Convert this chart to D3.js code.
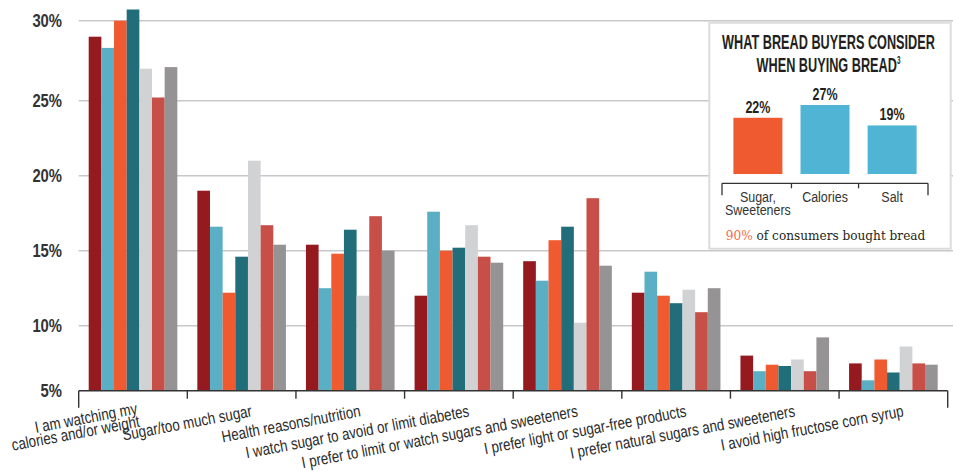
<!DOCTYPE html>
<html>
<head>
<meta charset="utf-8">
<script src="https://cdn.jsdelivr.net/npm/d3@7"></script>
<style>
  html, body { margin: 0; padding: 0; background: #fff; }
  svg { display: block; }
  .cond { font-family: "Liberation Sans", Arial, sans-serif; }
</style>
</head>
<body>
<svg id="chart" width="953" height="471"></svg>
<script>
// ---------- DATA ----------
const categories = [
  ["I am watching my", "calories and/or weight"],
  ["Sugar/too much sugar"],
  ["Health reasons/nutrition"],
  ["I watch sugar to avoid or limit diabetes"],
  ["I prefer to limit or watch sugars and sweeteners"],
  ["I prefer light or sugar-free products"],
  ["I prefer natural sugars and sweeteners"],
  ["I avoid high fructose corn syrup"]
];
const series1 = [29.0, 19.0, 15.4, 12.0, 14.3, 12.2, 7.7, 7.1];
const series2 = [28.3, 16.6, 12.5, 17.6, 13.0, 13.6, 6.5, 5.8];
const series3 = [30.0, 12.2, 14.8, 15.0, 15.7, 12.0, 7.0, 7.4];
const series4 = [30.7, 14.6, 16.4, 15.2, 16.6, 11.5, 6.9, 6.4];
const series5 = [27.0, 21.0, 12.0, 16.7, 10.2, 12.4, 7.4, 8.4];
const series6 = [25.2, 16.7, 17.3, 14.6, 18.5, 10.9, 6.5, 7.1];
const series7 = [27.1, 15.4, 15.0, 14.2, 14.0, 12.5, 9.1, 7.0];
const seriesNames = ["s1", "s2", "s3", "s4", "s5", "s6", "s7"];
const seriesColors = ["#941a1f", "#5aafc4", "#f05a30", "#216d7a", "#d1d2d4", "#c84f47", "#959394"];
const yTicks = [5, 10, 15, 20, 25, 30];

const insetTitle = ["WHAT BREAD BUYERS CONSIDER", "WHEN BUYING BREAD"];
const insetFootnote = "3";
const insetCategories = [["Sugar,", "Sweeteners"], ["Calories"], ["Salt"]];
const insetValues = [22, 27, 19];
const insetColors = ["#f05a30", "#50b4d4", "#50b4d4"];
const insetNoteHighlight = "90%";
const insetNote = " of consumers bought bread";

// ---------- CHART ----------
const svg = d3.select("#chart");
const allSeries = [series1, series2, series3, series4, series5, series6, series7];
const catKeys = categories.map(d => d.join(" "));

const x0 = d3.scaleBand().domain(catKeys).range([78.7, 947.7]).padding(0);
const x1 = d3.scaleBand().domain(seriesNames).range([10, x0.bandwidth() - 10]).padding(0);
// piecewise-linear value axis, as in the original artwork
const y = d3.scaleLinear().domain([5, 10, 25, 30]).range([390.7, 325.7, 100.7, 20.7]);

// gridlines
svg.append("g").selectAll("line")
  .data(yTicks.filter(t => t > 5))
  .join("line")
  .attr("x1", 78.7).attr("x2", 953)
  .attr("y1", d => y(d)).attr("y2", d => y(d))
  .attr("stroke", "#c8c8c8").attr("stroke-width", 1.6);

// y labels (condensed via horizontal scale)
svg.append("g").selectAll("text")
  .data(yTicks)
  .join("text")
  .attr("class", "cond")
  .attr("transform", d => `translate(62,${y(d)}) scale(0.8,1)`)
  .attr("dy", "0.36em")
  .attr("text-anchor", "end")
  .attr("font-size", 18.5).attr("font-weight", "bold")
  .attr("fill", "#333")
  .text(d => d + "%");

// bars
const groups = svg.append("g").selectAll("g")
  .data(catKeys)
  .join("g")
  .attr("transform", d => `translate(${x0(d)},0)`);
groups.selectAll("rect")
  .data((d, i) => seriesNames.map((s, j) => ({ s, j, v: allSeries[j][i] })))
  .join("rect")
  .attr("x", d => x1(d.s))
  .attr("width", x1.bandwidth())
  .attr("y", d => y(d.v))
  .attr("height", d => y(5) - y(d.v))
  .attr("fill", d => seriesColors[d.j]);

// x axis line + boundary ticks
const base = y(5);
const xr = x0.range();
svg.append("line").attr("x1", xr[0]).attr("x2", xr[1])
  .attr("y1", base).attr("y2", base)
  .attr("stroke", "#333").attr("stroke-width", 1.6);
const bounds = catKeys.map(d => x0(d)).concat([xr[1]]);
svg.append("g").selectAll("line")
  .data(bounds)
  .join("line")
  .attr("x1", d => d).attr("x2", d => d)
  .attr("y1", base)
  .attr("y2", (d, i) => (i === 0 || i === bounds.length - 1) ? base + 17 : base + 8)
  .attr("stroke", "#333").attr("stroke-width", 1.4);

// x labels (slanted, condensed)
const xl = svg.append("g").selectAll("text")
  .data(categories)
  .join("text")
  .attr("class", "cond")
  .attr("font-size", 16.5)
  .attr("fill", "#2b2b2b")
  .attr("text-anchor", "end")
  .attr("transform", (d, i) => {
    const cx = x0(catKeys[i]) + x0.bandwidth() / 2 + (d.length > 1 ? 5 : 11);
    const cy = d.length > 1 ? base + 23 : base + 25.5;
    return `translate(${cx},${cy}) rotate(-10.7) scale(0.81,1)`;
  });
xl.selectAll("tspan")
  .data(d => d)
  .join("tspan")
  .attr("x", 0)
  .attr("dy", (d, i) => i === 0 ? 0 : "0.8em")
  .text(d => d);

// ---------- INSET ----------
const inset = svg.append("g");
inset.append("rect")
  .attr("x", 709.3).attr("y", 22.7).attr("width", 241.4).attr("height", 226)
  .attr("fill", "#fff").attr("stroke", "#dcdcdc").attr("stroke-width", 2);

const title = inset.append("g").attr("transform", "translate(828.5,0) scale(0.635,1)");
title.append("text")
  .attr("class", "cond")
  .attr("text-anchor", "middle")
  .attr("font-size", 20).attr("font-weight", "bold")
  .attr("fill", "#231f20")
  .attr("x", 0).attr("y", 49.3)
  .text(insetTitle[0]);
const t2 = title.append("text")
  .attr("class", "cond")
  .attr("text-anchor", "middle")
  .attr("font-size", 20).attr("font-weight", "bold")
  .attr("fill", "#231f20")
  .attr("x", 0).attr("y", 71.7);
t2.append("tspan").text(insetTitle[1]);
t2.append("tspan").attr("font-size", 10).attr("dy", -8).text(insetFootnote);

const ix = d3.scaleBand().domain(insetCategories.map(d => d.join(" ")))
  .range([722, 928]).paddingInner(0.27).paddingOuter(0.17);
const iy = d3.scaleLinear().domain([0, 27]).range([174, 105]);
const icx = i => ix(ix.domain()[i]) + ix.bandwidth() / 2;

inset.append("g").selectAll("rect")
  .data(insetValues)
  .join("rect")
  .attr("x", (d, i) => ix(ix.domain()[i]))
  .attr("width", ix.bandwidth())
  .attr("y", d => iy(d))
  .attr("height", d => iy(0) - iy(d))
  .attr("fill", (d, i) => insetColors[i]);

inset.append("g").selectAll("text")
  .data(insetValues)
  .join("text")
  .attr("class", "cond")
  .attr("transform", (d, i) => `translate(${icx(i)},${iy(d) - 5}) scale(0.78,1)`)
  .attr("text-anchor", "middle")
  .attr("font-size", 16).attr("font-weight", "bold")
  .attr("fill", "#231f20")
  .text(d => d + "%");

// inset axis
const ia = 183.3;
const ir = ix.range();
inset.append("line").attr("x1", ir[0]).attr("x2", ir[1]).attr("y1", ia).attr("y2", ia)
  .attr("stroke", "#333").attr("stroke-width", 1.3);
const ib = [ir[0]].concat(ix.domain().slice(1).map(d => ix(d) - ix.step() * ix.paddingInner() / 2)).concat([ir[1]]);
inset.append("g").selectAll("line")
  .data(ib)
  .join("line")
  .attr("x1", d => d).attr("x2", d => d)
  .attr("y1", ia)
  .attr("y2", (d, i) => (i === 0 || i === ib.length - 1) ? ia + 12 : ia + 5)
  .attr("stroke", "#333").attr("stroke-width", 1.3);

const icl = inset.append("g").selectAll("text")
  .data(insetCategories)
  .join("text")
  .attr("class", "cond")
  .attr("transform", (d, i) => `translate(${icx(i)},201.7) scale(0.86,1)`)
  .attr("text-anchor", "middle")
  .attr("font-size", 14.5)
  .attr("fill", "#333");
icl.selectAll("tspan")
  .data(d => d)
  .join("tspan")
  .attr("x", 0)
  .attr("y", (d, k) => k * 13.5)
  .text(d => d);

const note = inset.append("text")
  .attr("transform", "translate(825.5,240) scale(0.97,1)")
  .attr("text-anchor", "middle")
  .attr("font-family", "'DejaVu Serif', serif")
  .attr("font-size", 12.5)
  .attr("fill", "#231f20");
note.append("tspan").attr("fill", "#f26b4f").text(insetNoteHighlight);
note.append("tspan").text(insetNote);
</script>
</body>
</html>
